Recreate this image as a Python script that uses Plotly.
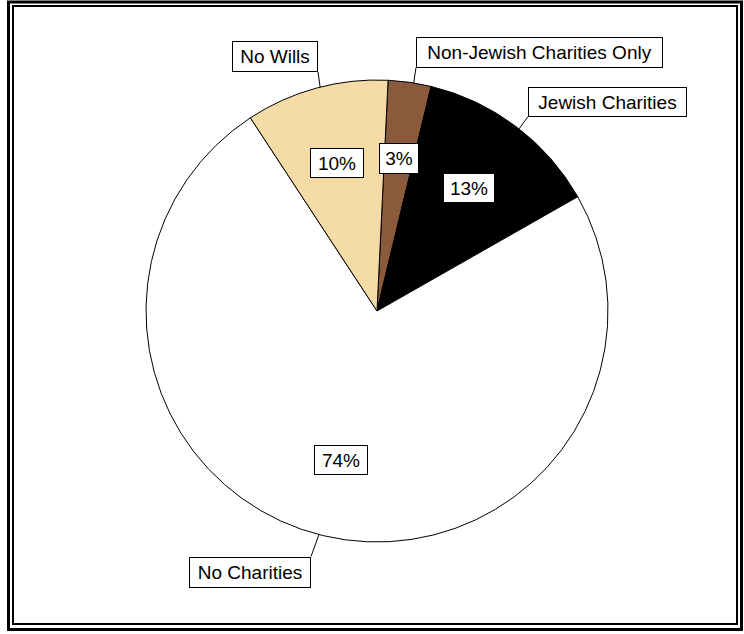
import math
import plotly.graph_objects as go

# Will-making outcomes (share of estates, %)
categories = ["Non-Jewish Charities Only", "Jewish Charities", "No Charities", "No Wills"]
shares = [3, 13, 74, 10]
slice_colors = ["#8B5A3C", "#000000", "#FFFFFF", "#F5DBA6"]

W, H = 744, 634
CX, CY, R = 377, 311, 231          # pie centre and radius in pixels
ROTATION = 2.75                     # start angle, degrees clockwise from 12 o'clock
FONT = dict(family="Liberation Sans, Arial, sans-serif", size=19, color="black")


def px_to_paper(x, y):
    return x / W, 1 - y / H


def polar_px(angle_deg, radius):
    a = math.radians(angle_deg)
    return CX + radius * math.sin(a), CY - radius * math.cos(a)


# mid angle of each slice (clockwise from top)
total = sum(shares)
mids = []
start = ROTATION
for v in shares:
    span = 360 * v / total
    mids.append(start + span / 2)
    start += span

fig = go.Figure(
    go.Pie(
        labels=categories,
        values=shares,
        sort=False,
        direction="clockwise",
        rotation=ROTATION,
        marker=dict(colors=slice_colors, line=dict(color="black", width=1)),
        textinfo="none",
        hoverinfo="label+percent",
        showlegend=False,
        domain=dict(
            x=[(CX - R) / W, (CX + R) / W],
            y=[1 - (CY + R) / H, 1 - (CY - R) / H],
        ),
    )
)

annotations = []
shapes = []

# percentage boxes inside the slices
pct_boxes = [(40, 31), (52, 30), (54, 30), (54, 30)]
for v, m, (bw, bh) in zip(shares, mids, pct_boxes):
    x, y = px_to_paper(*polar_px(m, 0.665 * R))
    annotations.append(dict(
        x=x, y=y, xref="paper", yref="paper", text=f"{v}%", showarrow=False,
        font=FONT, bgcolor="white", bordercolor="black", borderwidth=1,
        borderpad=0, width=bw - 2, height=bh - 2, xanchor="center", yanchor="middle",
    ))

# category call-outs: box centre, size and the corner the leader line meets
callouts = [
    ((539.5, 52), (247, 31), "bl"),
    ((607.5, 101.5), (159, 30), "bl"),
    ((250, 572), (122, 31), "tr"),
    ((275, 56.5), (86, 31), "br"),
]
for name, m, ((bx, by), (bw, bh), corner) in zip(categories, mids, callouts):
    ax_px, ay_px = polar_px(m + 1, R)
    cx_px = bx - bw / 2 if corner[1] == "l" else bx + bw / 2
    cy_px = by - bh / 2 if corner[0] == "t" else by + bh / 2
    x0, y0 = px_to_paper(ax_px, ay_px)
    x1, y1 = px_to_paper(cx_px, cy_px)
    shapes.append(dict(type="line", xref="paper", yref="paper", x0=x0, y0=y0,
                       x1=x1, y1=y1, line=dict(color="black", width=1)))
    x, y = px_to_paper(bx, by)
    annotations.append(dict(
        x=x, y=y, xref="paper", yref="paper", text=name, showarrow=False,
        font=FONT, bgcolor="white", bordercolor="black", borderwidth=1,
        borderpad=0, width=bw - 2, height=bh - 2, xanchor="center", yanchor="middle",
    ))

# double frame around the chart
for (l, t, r, b, w) in [(8.5, 2, 741.5, 629.5, 3), (13, 6, 737, 624, 2)]:
    x0, y0 = px_to_paper(l, b)
    x1, y1 = px_to_paper(r, t)
    shapes.append(dict(type="rect", xref="paper", yref="paper", x0=x0, y0=y0,
                       x1=x1, y1=y1, line=dict(color="black", width=w),
                       fillcolor="rgba(0,0,0,0)"))

fig.update_layout(
    width=W, height=H,
    margin=dict(l=0, r=0, t=0, b=0),
    paper_bgcolor="white", plot_bgcolor="white",
    annotations=annotations, shapes=shapes,
    font=FONT,
)

fig.write_html("out.html")
